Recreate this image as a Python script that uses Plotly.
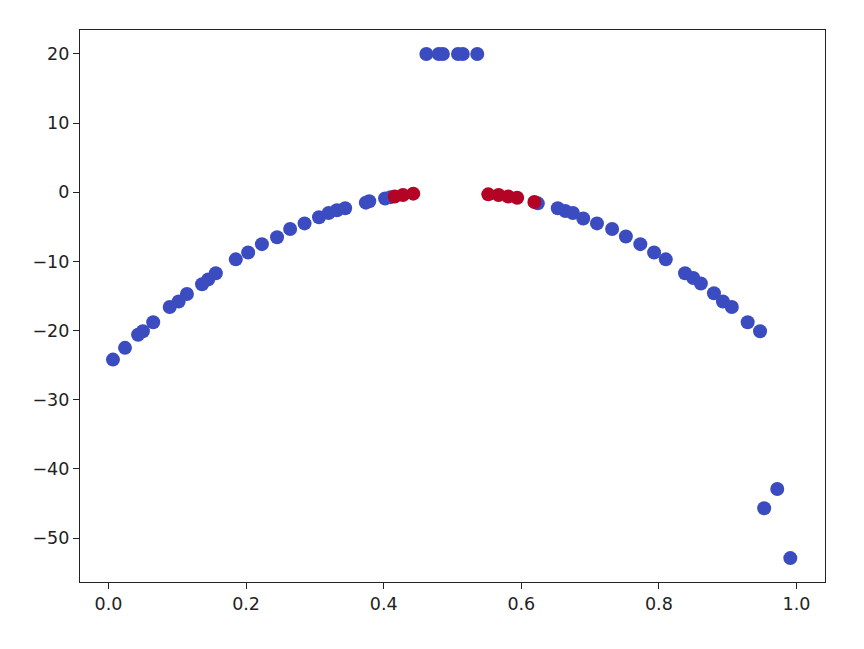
import plotly.graph_objects as go

# Blue points (low class)
blue_x = [0.0065, 0.024, 0.043, 0.050, 0.065, 0.089, 0.102, 0.114, 0.136, 0.145, 0.156,
          0.185, 0.203, 0.223, 0.245, 0.264, 0.285, 0.306, 0.320, 0.332, 0.344, 0.374,
          0.379, 0.402, 0.410,
          0.462, 0.480, 0.486, 0.508, 0.515, 0.536,
          0.624, 0.653, 0.664, 0.675, 0.690, 0.710, 0.732, 0.752, 0.773, 0.793, 0.810,
          0.838, 0.850, 0.861, 0.880, 0.893, 0.906, 0.929, 0.947,
          0.953, 0.972, 0.991]
blue_y = [-24.2, -22.5, -20.6, -20.1, -18.8, -16.6, -15.8, -14.7, -13.3, -12.6, -11.7,
          -9.7, -8.7, -7.5, -6.5, -5.3, -4.5, -3.6, -3.0, -2.6, -2.3, -1.5,
          -1.3, -0.9, -0.7,
          20.0, 20.0, 20.0, 20.0, 20.0, 20.0,
          -1.6, -2.3, -2.7, -3.0, -3.8, -4.5, -5.3, -6.4, -7.5, -8.7, -9.7,
          -11.7, -12.4, -13.2, -14.6, -15.8, -16.6, -18.8, -20.1,
          -45.7, -42.9, -52.9]

# Red points (high class)
red_x = [0.416, 0.428, 0.443, 0.552, 0.567, 0.581, 0.594, 0.619]
red_y = [-0.6, -0.4, -0.2, -0.3, -0.4, -0.6, -0.8, -1.4]

x_ticks = [0.0, 0.2, 0.4, 0.6, 0.8, 1.0]
x_tick_labels = ["0.0", "0.2", "0.4", "0.6", "0.8", "1.0"]
y_ticks = [-50, -40, -30, -20, -10, 0, 10, 20]
y_tick_labels = ["\u221250", "\u221240", "\u221230", "\u221220", "\u221210", "0", "10", "20"]

fig = go.Figure()
fig.add_trace(go.Scatter(x=blue_x, y=blue_y, mode="markers",
                         marker=dict(color="#3b4cc0", size=14, line=dict(width=0)),
                         showlegend=False, hoverinfo="x+y"))
fig.add_trace(go.Scatter(x=red_x, y=red_y, mode="markers",
                         marker=dict(color="#b40426", size=14, line=dict(width=0)),
                         showlegend=False, hoverinfo="x+y"))

axis_common = dict(showline=True, mirror=True, linecolor="#222222", linewidth=1.3,
                   ticks="outside", ticklen=6, tickwidth=1.3, tickcolor="#222222",
                   showgrid=False, zeroline=False,
                   tickfont=dict(family="DejaVu Sans", size=17.5, color="#222222"))

fig.update_layout(
    width=864, height=649,
    margin=dict(l=72, r=47, t=22, b=75),
    paper_bgcolor="white", plot_bgcolor="white",
    xaxis=dict(range=[-0.0414, 1.0414], tickvals=x_ticks, ticktext=x_tick_labels, **axis_common),
    yaxis=dict(range=[-56.36, 23.47], tickvals=y_ticks, ticktext=y_tick_labels, **axis_common),
)

fig.write_html("out.html")
